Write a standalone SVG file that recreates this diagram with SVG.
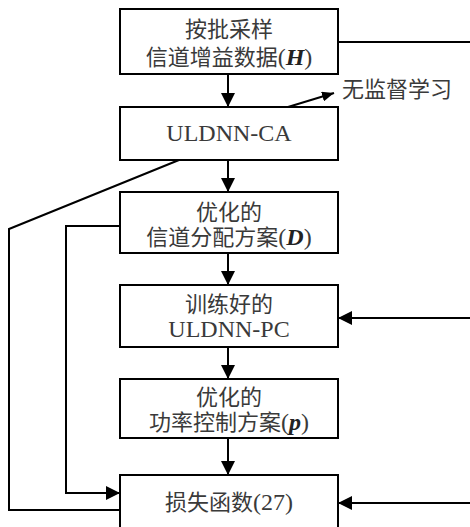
<svg xmlns="http://www.w3.org/2000/svg" width="470" height="527" viewBox="0 0 470 527">
<style>
.box{fill:#fff;stroke:#000;stroke-width:2}
.ln{fill:none;stroke:#000;stroke-width:2}
.t{font-family:"Liberation Serif","Noto Sans CJK SC",serif;font-size:22px;fill:#3a3a3a;text-anchor:middle}
.l{font-size:24px}
.bi{font-weight:bold;font-style:italic;fill:#222}
</style>
<defs>
<marker id="ah" markerUnits="userSpaceOnUse" markerWidth="14" markerHeight="14" refX="14" refY="7" orient="auto">
<path d="M0,0 L14,7 L0,14 z" fill="#000"/>
</marker>
<marker id="ahs" markerUnits="userSpaceOnUse" markerWidth="12" markerHeight="10" refX="12" refY="5" orient="auto">
<path d="M0,0 L12,5 L0,10 z" fill="#000"/>
</marker>
</defs>
<g id="connectors">
<path class="ln" d="M338,42 H470"/>
<path class="ln" d="M179,160 L9,229 V510 H120"/>
<path class="ln" d="M120,226 H66 V493 H120" marker-end="url(#ah)"/>
<path class="ln" d="M470,318 H338" marker-end="url(#ah)"/>
<path class="ln" d="M470,503 H338" marker-end="url(#ah)"/>
<path class="ln" d="M228,74 V107" marker-end="url(#ah)"/>
<path class="ln" d="M228,160 V192" marker-end="url(#ah)"/>
<path class="ln" d="M228,253 V285" marker-end="url(#ah)"/>
<path class="ln" d="M228,347 V379" marker-end="url(#ah)"/>
<path class="ln" d="M228,438 V475" marker-end="url(#ah)"/>
<path class="ln" d="M288,107 L334,93" marker-end="url(#ahs)"/>
</g>
<g id="n1">
<rect class="box" x="120" y="9" width="218" height="65"/>
<text class="t" x="229" y="37">按批采样</text>
<text class="t" x="229" y="65">信道增益数据<tspan class="l">(</tspan><tspan class="l bi">H</tspan><tspan class="l">)</tspan></text>
</g>
<g id="n2">
<rect class="box" x="120" y="107" width="218" height="53"/>
<text class="t l" x="229" y="141">ULDNN-CA</text>
</g>
<g id="label">
<text class="t" x="342" y="97" style="text-anchor:start">无监督学习</text>
</g>
<g id="n3">
<rect class="box" x="120" y="192" width="218" height="61"/>
<text class="t" x="229" y="220">优化的</text>
<text class="t" x="229" y="245">信道分配方案<tspan class="l">(</tspan><tspan class="l bi">D</tspan><tspan class="l">)</tspan></text>
</g>
<g id="n4">
<rect class="box" x="120" y="285" width="218" height="62"/>
<text class="t" x="229" y="312">训练好的</text>
<text class="t l" x="229" y="337">ULDNN-PC</text>
</g>
<g id="n5">
<rect class="box" x="120" y="379" width="218" height="59"/>
<text class="t" x="229" y="405">优化的</text>
<text class="t" x="229" y="430">功率控制方案<tspan class="l">(</tspan><tspan class="l bi">p</tspan><tspan class="l">)</tspan></text>
</g>
<g id="n6">
<rect class="box" x="120" y="475" width="218" height="70"/>
<text class="t" x="229" y="510">损失函数<tspan class="l">(27)</tspan></text>
</g>
</svg>
